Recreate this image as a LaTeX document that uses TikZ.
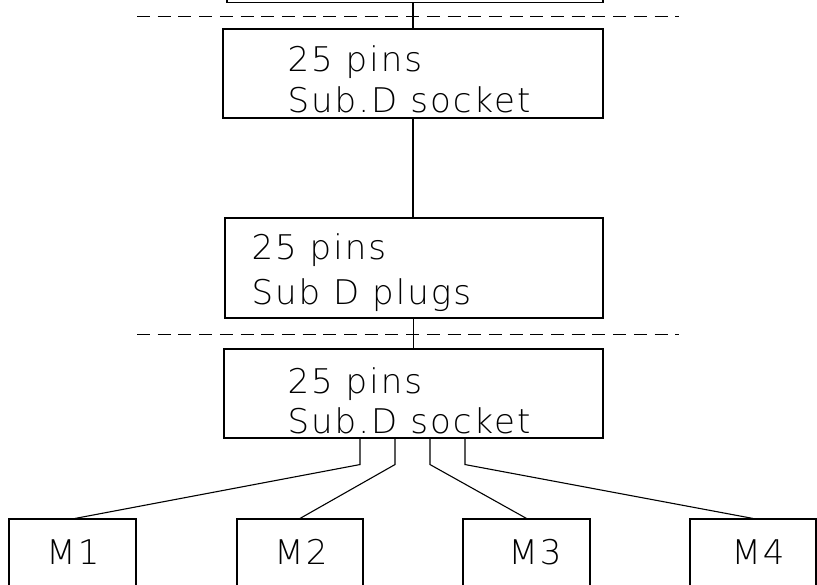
\documentclass[tikz,border=0pt]{standalone}
\usepackage{fontspec}
\setmainfont{DejaVu Sans ExtraLight}[LetterSpace=6]
\begin{document}
\begin{tikzpicture}[x=1pt,y=-1pt,line width=1.1pt,
  box/.style={draw,rectangle,inner sep=0pt},
  lbl/.style={anchor=base west,inner sep=0pt,font=\fontsize{34}{40}\selectfont},
  mlbl/.style={anchor=base,inner sep=0pt,font=\fontsize{34}{40}\selectfont},
  sep/.style={line width=1pt,dash pattern=on 13pt off 7.7pt}]
\useasboundingbox (0,0) rectangle (817,585);
\clip (0,0) rectangle (817,585);
% separation lines
\coordinate (d1a) at (137,17);
\coordinate (d1b) at (679,17);
\coordinate (d2a) at (137,335);
\coordinate (d2b) at (679,335);
\draw[sep] (d1a) -- (d1b);
\draw[sep] (d2a) -- (d2b);
% boxes
\node[box,minimum width=376pt,minimum height=62pt] (top) at (415,-28.5) {};
\node[box,minimum width=380pt,minimum height=89pt] (s1) at (413,73.5) {};
\node[box,minimum width=378pt,minimum height=100pt] (pl) at (414,268) {};
\node[box,minimum width=379pt,minimum height=89pt] (s2) at (413.5,393.5) {};
\node[box,minimum width=127pt,minimum height=81pt] (m1) at (72.5,559.5) {};
\node[box,minimum width=126pt,minimum height=81pt] (m2) at (300,559.5) {};
\node[box,minimum width=127pt,minimum height=81pt] (m3) at (526.5,559.5) {};
\node[box,minimum width=126pt,minimum height=81pt] (m4) at (753,559.5) {};
% texts
\node[lbl] (s1a) at (287,72) {25 pins};
\node[lbl] (s1b) at (287,113) {Sub.D socket};
\node[lbl] (pla) at (251,260) {25 pins};
\node[lbl] (plb) at (251,305) {Sub D plugs};
\node[lbl] (s2a) at (287,393) {25 pins};
\node[lbl] (s2b) at (287,433) {Sub.D socket};
\node[mlbl] (m1t) at (73,564) {M1};
\node[mlbl] (m2t) at (301,564) {M2};
\node[mlbl] (m3t) at (535,564) {M3};
\node[mlbl] (m4t) at (758,564) {M4};
% connectors
\draw (top.south -| s1.north) -- (s1.north);
\draw (s1.south) -- (pl.north -| s1.south);
\draw (pl.south -| s2.north) -- (s2.north);
\draw ([xshift=-53.5pt]s2.south) -- ++(0,26) -- ([xshift=2.5pt]m1.north);
\draw ([xshift=-18.5pt]s2.south) -- ++(0,26) -- (m2.north);
\draw ([xshift=16.5pt]s2.south) -- ++(0,26) -- (m3.north);
\draw ([xshift=51.5pt]s2.south) -- ++(0,26) -- (m4.north);
\end{tikzpicture}
\end{document}
